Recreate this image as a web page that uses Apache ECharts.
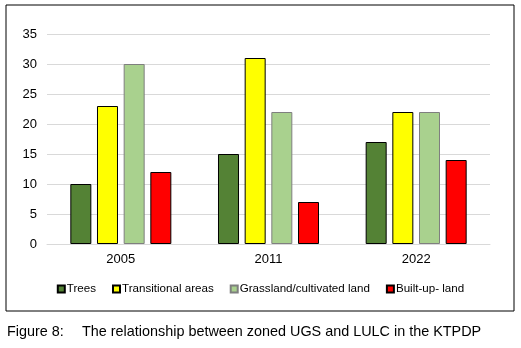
<!DOCTYPE html>
<html>
<head>
<meta charset="utf-8">
<script src="https://cdn.jsdelivr.net/npm/echarts@6/dist/echarts.min.js"></script>
<style>
  html, body { margin: 0; padding: 0; background: #fff; }
  #chart { width: 521px; height: 348px; }
</style>
</head>
<body>
<div id="chart"></div>
<script>
// data
var years = ['2005', '2011', '2022'];
var trees = [10, 15, 17];
var transitional = [23, 31, 22];
var grassland = [30, 22, 22];
var builtUp = [12, 7, 14];

var myChart = echarts.init(document.getElementById('chart'));
var font = 'Liberation Sans, Arial, sans-serif';

function bar(name, data, color, border) {
    return {
        name: name,
        type: 'bar',
        data: data,
        barWidth: 21,
        barGap: '27%',
        itemStyle: { color: color, borderColor: border, borderWidth: 1 },
        animation: false
    };
}

option = {
    grid: { left: 47, right: 31, top: 34, bottom: 104 },
    legend: {
        top: 278,
        left: 'center',
        itemWidth: 7,
        itemHeight: 7,
        itemGap: 16,
        icon: 'rect',
        textStyle: { fontFamily: font, fontSize: 11.6, color: '#000', padding: [0, 0, 0, -3] },
        data: ['Trees', 'Transitional areas', 'Grassland/cultivated land', 'Built-up- land']
    },
    xAxis: {
        type: 'category',
        data: years,
        axisLine: { lineStyle: { color: '#d9d9d9' } },
        axisTick: { show: false },
        axisLabel: { fontFamily: font, fontSize: 13, color: '#000', margin: 9 }
    },
    yAxis: {
        type: 'value',
        min: 0,
        max: 35,
        interval: 5,
        axisLine: { show: false },
        axisTick: { show: false },
        splitLine: { lineStyle: { color: '#d9d9d9' } },
        axisLabel: { fontFamily: font, fontSize: 13, color: '#000', margin: 10 }
    },
    series: [
        bar('Trees', trees, '#548235', '#000'),
        bar('Transitional areas', transitional, '#ffff00', '#000'),
        bar('Grassland/cultivated land', grassland, '#a9d18e', '#7f7f7f'),
        bar('Built-up- land', builtUp, '#ff0000', '#000')
    ],
    graphic: [
        {
            type: 'rect',
            shape: { x: 6, y: 5, width: 508, height: 306 },
            style: { fill: 'none', stroke: '#000', lineWidth: 1 },
            silent: true
        },
        {
            type: 'text',
            left: 7,
            top: 325,
            style: { text: 'Figure 8:', font: '14.4px ' + font, fill: '#000' }
        },
        {
            type: 'text',
            left: 82,
            top: 325,
            style: { text: 'The relationship between zoned UGS and LULC in the KTPDP', font: '14.4px ' + font, fill: '#000' }
        }
    ]
};

myChart.setOption(option);
</script>
</body>
</html>
